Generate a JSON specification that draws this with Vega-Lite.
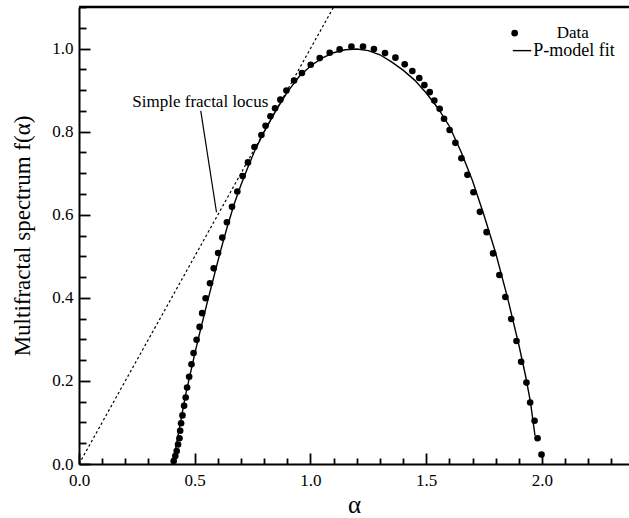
{
  "$schema": "https://vega.github.io/schema/vega-lite/v6.json",
  "autosize": {"type": "none"},
  "padding": {"left": 79, "top": 7, "right": 0, "bottom": 54},
  "width": 550,
  "height": 457,
  "background": "white",
  "config": {
    "view": {"stroke": null},
    "font": "Liberation Serif",
    "axis": {
      "grid": false,
      "ticks": true,
      "domainColor": "black",
      "domainWidth": 2,
      "tickColor": "black",
      "tickWidth": 1.8,
      "labelFont": "Liberation Serif",
      "labelFontSize": 17,
      "labelColor": "black",
      "titleFont": "Liberation Serif",
      "titleColor": "black",
      "titleFontWeight": "normal"
    }
  },
  "datasets": {
    "data": [
      {"alpha": 0.409, "f": 0.007}, {"alpha": 0.416, "f": 0.019}, {"alpha": 0.422, "f": 0.031},
      {"alpha": 0.428, "f": 0.047}, {"alpha": 0.434, "f": 0.062}, {"alpha": 0.437, "f": 0.080},
      {"alpha": 0.441, "f": 0.098}, {"alpha": 0.447, "f": 0.117}, {"alpha": 0.454, "f": 0.140},
      {"alpha": 0.461, "f": 0.160}, {"alpha": 0.467, "f": 0.184}, {"alpha": 0.476, "f": 0.210},
      {"alpha": 0.486, "f": 0.240}, {"alpha": 0.495, "f": 0.267}, {"alpha": 0.508, "f": 0.299},
      {"alpha": 0.521, "f": 0.330}, {"alpha": 0.532, "f": 0.363}, {"alpha": 0.547, "f": 0.399},
      {"alpha": 0.566, "f": 0.435}, {"alpha": 0.582, "f": 0.471}, {"alpha": 0.601, "f": 0.508},
      {"alpha": 0.619, "f": 0.545}, {"alpha": 0.639, "f": 0.582}, {"alpha": 0.661, "f": 0.619},
      {"alpha": 0.684, "f": 0.656}, {"alpha": 0.707, "f": 0.693}, {"alpha": 0.730, "f": 0.726},
      {"alpha": 0.758, "f": 0.763}, {"alpha": 0.788, "f": 0.792}, {"alpha": 0.806, "f": 0.814},
      {"alpha": 0.827, "f": 0.837}, {"alpha": 0.847, "f": 0.856}, {"alpha": 0.870, "f": 0.877},
      {"alpha": 0.896, "f": 0.899}, {"alpha": 0.929, "f": 0.923}, {"alpha": 0.963, "f": 0.941},
      {"alpha": 1.001, "f": 0.961}, {"alpha": 1.040, "f": 0.977}, {"alpha": 1.083, "f": 0.990},
      {"alpha": 1.126, "f": 0.998}, {"alpha": 1.177, "f": 1.005}, {"alpha": 1.227, "f": 1.005},
      {"alpha": 1.274, "f": 0.999}, {"alpha": 1.322, "f": 0.989}, {"alpha": 1.367, "f": 0.978},
      {"alpha": 1.407, "f": 0.962}, {"alpha": 1.440, "f": 0.946}, {"alpha": 1.470, "f": 0.929},
      {"alpha": 1.492, "f": 0.912}, {"alpha": 1.515, "f": 0.895}, {"alpha": 1.535, "f": 0.875},
      {"alpha": 1.558, "f": 0.855}, {"alpha": 1.577, "f": 0.831}, {"alpha": 1.601, "f": 0.804},
      {"alpha": 1.626, "f": 0.773}, {"alpha": 1.652, "f": 0.736}, {"alpha": 1.678, "f": 0.696},
      {"alpha": 1.704, "f": 0.654}, {"alpha": 1.732, "f": 0.607}, {"alpha": 1.761, "f": 0.558},
      {"alpha": 1.789, "f": 0.507}, {"alpha": 1.816, "f": 0.455}, {"alpha": 1.842, "f": 0.402},
      {"alpha": 1.867, "f": 0.349}, {"alpha": 1.890, "f": 0.296}, {"alpha": 1.910, "f": 0.246},
      {"alpha": 1.933, "f": 0.196}, {"alpha": 1.949, "f": 0.148}, {"alpha": 1.968, "f": 0.104},
      {"alpha": 1.981, "f": 0.062}, {"alpha": 1.998, "f": 0.023}
    ],
    "fit": [
      {"alpha": 0.405, "f": 0.0}, {"alpha": 0.415, "f": 0.03}, {"alpha": 0.425, "f": 0.06},
      {"alpha": 0.435, "f": 0.09}, {"alpha": 0.445, "f": 0.12}, {"alpha": 0.46, "f": 0.165},
      {"alpha": 0.48, "f": 0.215}, {"alpha": 0.50, "f": 0.265}, {"alpha": 0.52, "f": 0.312},
      {"alpha": 0.55, "f": 0.38}, {"alpha": 0.58, "f": 0.445}, {"alpha": 0.61, "f": 0.51},
      {"alpha": 0.64, "f": 0.57}, {"alpha": 0.67, "f": 0.625}, {"alpha": 0.70, "f": 0.672},
      {"alpha": 0.73, "f": 0.715}, {"alpha": 0.76, "f": 0.755}, {"alpha": 0.80, "f": 0.80},
      {"alpha": 0.85, "f": 0.85}, {"alpha": 0.90, "f": 0.895}, {"alpha": 0.95, "f": 0.932},
      {"alpha": 1.00, "f": 0.958}, {"alpha": 1.05, "f": 0.977}, {"alpha": 1.10, "f": 0.99},
      {"alpha": 1.15, "f": 0.997}, {"alpha": 1.20, "f": 0.999}, {"alpha": 1.25, "f": 0.995},
      {"alpha": 1.30, "f": 0.985}, {"alpha": 1.35, "f": 0.968}, {"alpha": 1.40, "f": 0.948},
      {"alpha": 1.45, "f": 0.924}, {"alpha": 1.50, "f": 0.893}, {"alpha": 1.55, "f": 0.857},
      {"alpha": 1.60, "f": 0.813}, {"alpha": 1.65, "f": 0.752}, {"alpha": 1.70, "f": 0.682},
      {"alpha": 1.75, "f": 0.598}, {"alpha": 1.80, "f": 0.508}, {"alpha": 1.85, "f": 0.403},
      {"alpha": 1.90, "f": 0.287}, {"alpha": 1.93, "f": 0.21}, {"alpha": 1.95, "f": 0.15},
      {"alpha": 1.97, "f": 0.068}
    ],
    "locus": [{"alpha": 0.0, "f": 0.0}, {"alpha": 1.1, "f": 1.1}],
    "pointer": [{"alpha": 0.526, "f": 0.850}, {"alpha": 0.594, "f": 0.606}],
    "labelsCenter": [
      {"alpha": 0.524, "f": 0.872, "text": "Simple fractal locus"},
      {"alpha": 2.133, "f": 1.037, "text": "Data"}
    ],
    "labelsLeft": [
      {"alpha": 1.962, "f": 0.993, "text": "P-model fit"}
    ],
    "legendDot": [{"alpha": 1.882, "f": 1.037}],
    "legendLine": [{"alpha": 1.874, "f": 0.995}, {"alpha": 1.954, "f": 0.995}]
  },
  "resolve": {"axis": {"x": "independent", "y": "independent"}},
  "layer": [
    {
      "data": {"values": [{"f": 1.1}]},
      "mark": {"type": "rule", "color": "black", "strokeWidth": 2.5},
      "encoding": {
        "y": {"field": "f", "type": "quantitative", "scale": {"domain": [0, 1.1], "nice": false, "zero": false}, "axis": null}
      }
    },
    {
      "data": {"name": "locus"},
      "mark": {"type": "line", "color": "black", "strokeWidth": 1.2, "strokeDash": [2.5, 2.5], "clip": true},
      "encoding": {
        "x": {
          "field": "alpha", "type": "quantitative",
          "scale": {"domain": [0, 2.376], "nice": false, "zero": false},
          "axis": {
            "orient": "bottom", "title": null, "labels": false, "domain": false, "ticks": true,
            "values": [0.1, 0.2, 0.3, 0.4, 0.6, 0.7, 0.8, 0.9, 1.1, 1.2, 1.3, 1.4, 1.6, 1.7, 1.8, 1.9, 2.1, 2.2, 2.3],
            "tickSize": -6
          }
        },
        "y": {
          "field": "f", "type": "quantitative",
          "scale": {"domain": [0, 1.1], "nice": false, "zero": false},
          "axis": {
            "orient": "left", "title": null, "labels": false, "domain": false, "ticks": true,
            "values": [0.05, 0.1, 0.15, 0.25, 0.3, 0.35, 0.45, 0.5, 0.55, 0.65, 0.7, 0.75, 0.85, 0.9, 0.95, 1.05, 1.1],
            "tickSize": -7
          }
        }
      }
    },
    {
      "data": {"name": "data"},
      "mark": {"type": "point", "filled": true, "shape": "circle", "color": "black", "size": 44, "opacity": 1},
      "encoding": {
        "x": {
          "field": "alpha", "type": "quantitative",
          "scale": {"domain": [0, 2.376], "nice": false, "zero": false},
          "axis": {
            "orient": "bottom", "title": "α", "titleFontSize": 25, "titlePadding": 4,
            "values": [0, 0.5, 1.0, 1.5, 2.0],
            "format": ".1f",
            "ticks": true,
            "tickSize": -11,
            "labelPadding": 19,
            "labelFlush": false
          }
        },
        "y": {
          "field": "f", "type": "quantitative",
          "scale": {"domain": [0, 1.1], "nice": false, "zero": false},
          "axis": {
            "orient": "left", "title": "Multifractal spectrum f(α)", "titleFontSize": 23, "titlePadding": 17,
            "values": [0, 0.2, 0.4, 0.6, 0.8, 1.0],
            "format": ".1f",
            "ticks": true,
            "tickSize": -11,
            "labelPadding": 17,
            "labelFlush": false
          }
        }
      }
    },
    {
      "data": {"name": "fit"},
      "mark": {"type": "line", "color": "black", "strokeWidth": 1.4},
      "encoding": {
        "x": {"field": "alpha", "type": "quantitative", "scale": {"domain": [0, 2.376], "nice": false, "zero": false}, "axis": null},
        "y": {"field": "f", "type": "quantitative", "scale": {"domain": [0, 1.1], "nice": false, "zero": false}, "axis": null}
      }
    },
    {
      "data": {"name": "pointer"},
      "mark": {"type": "line", "color": "black", "strokeWidth": 1.2},
      "encoding": {
        "x": {"field": "alpha", "type": "quantitative", "scale": {"domain": [0, 2.376], "nice": false, "zero": false}, "axis": null},
        "y": {"field": "f", "type": "quantitative", "scale": {"domain": [0, 1.1], "nice": false, "zero": false}, "axis": null}
      }
    },
    {
      "data": {"name": "labelsCenter"},
      "mark": {"type": "text", "font": "Liberation Serif", "fontSize": 17, "color": "black", "baseline": "middle", "align": "center"},
      "encoding": {
        "x": {"field": "alpha", "type": "quantitative", "scale": {"domain": [0, 2.376], "nice": false, "zero": false}, "axis": null},
        "y": {"field": "f", "type": "quantitative", "scale": {"domain": [0, 1.1], "nice": false, "zero": false}, "axis": null},
        "text": {"field": "text"}
      }
    },
    {
      "data": {"name": "labelsLeft"},
      "mark": {"type": "text", "font": "Liberation Serif", "fontSize": 18, "color": "black", "baseline": "middle", "align": "left"},
      "encoding": {
        "x": {"field": "alpha", "type": "quantitative", "scale": {"domain": [0, 2.376], "nice": false, "zero": false}, "axis": null},
        "y": {"field": "f", "type": "quantitative", "scale": {"domain": [0, 1.1], "nice": false, "zero": false}, "axis": null},
        "text": {"field": "text"}
      }
    },
    {
      "data": {"name": "legendDot"},
      "mark": {"type": "point", "filled": true, "shape": "circle", "color": "black", "size": 44, "opacity": 1},
      "encoding": {
        "x": {"field": "alpha", "type": "quantitative", "scale": {"domain": [0, 2.376], "nice": false, "zero": false}, "axis": null},
        "y": {"field": "f", "type": "quantitative", "scale": {"domain": [0, 1.1], "nice": false, "zero": false}, "axis": null}
      }
    },
    {
      "data": {"name": "legendLine"},
      "mark": {"type": "line", "color": "black", "strokeWidth": 1.4},
      "encoding": {
        "x": {"field": "alpha", "type": "quantitative", "scale": {"domain": [0, 2.376], "nice": false, "zero": false}, "axis": null},
        "y": {"field": "f", "type": "quantitative", "scale": {"domain": [0, 1.1], "nice": false, "zero": false}, "axis": null}
      }
    }
  ]
}
